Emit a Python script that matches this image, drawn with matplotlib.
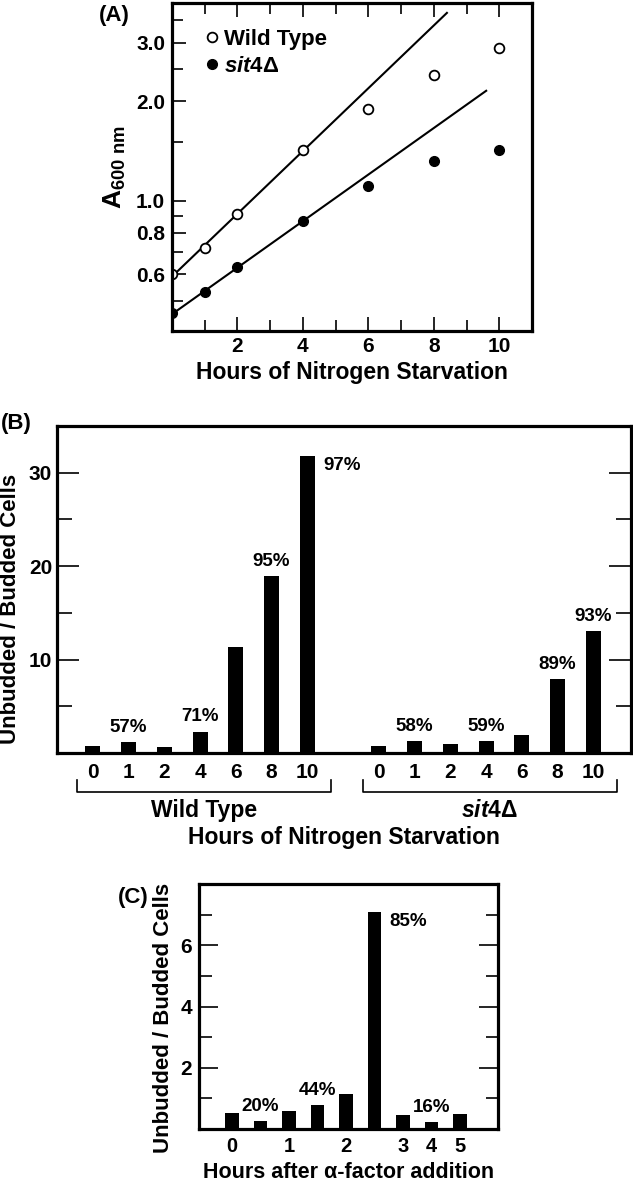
import numpy as np
import matplotlib
matplotlib.use('Agg')
import matplotlib.pyplot as plt
import matplotlib.transforms as mtransforms
from matplotlib.ticker import NullFormatter

plt.rcParams['font.family'] = ['Liberation Sans', 'DejaVu Sans']
plt.rcParams['font.weight'] = 'bold'
plt.rcParams['axes.labelweight'] = 'bold'
plt.rcParams['mathtext.fontset'] = 'custom'
plt.rcParams['mathtext.rm'] = 'Liberation Sans'
plt.rcParams['mathtext.bf'] = 'Liberation Sans:bold'
plt.rcParams['mathtext.it'] = 'Liberation Sans:italic:bold'

# panel A - growth curves (A600) during nitrogen starvation
hours_a = [0, 1, 2, 4, 6, 8, 10]
wt_a600 = [0.60, 0.72, 0.915, 1.42, 1.89, 2.39, 2.88]
sit4_a600 = [0.458, 0.53, 0.63, 0.87, 1.11, 1.32, 1.42]
fit_points = 4              # fit lines drawn through the first four points
fit_end = [8.4, 9.6]        # hours where the fit lines stop (WT, sit4)

# panel B - unbudded / budded ratio
b_hours = ['0', '1', '2', '4', '6', '8', '10']
b_wt = [0.75, 1.2, 0.6, 2.3, 11.3, 18.9, 31.8]
b_sit4 = [0.8, 1.3, 0.95, 1.27, 1.95, 7.9, 13.1]
b_wt_pct = ['', '57%', '', '71%', '', '95%', '97%']
b_sit4_pct = ['', '58%', '', '59%', '', '89%', '93%']

# panel C - alpha-factor arrest
c_labels = ['0', '', '1', '', '2', '', '3', '4', '5']
c_ratio = [0.53, 0.26, 0.59, 0.78, 1.14, 7.09, 0.46, 0.23, 0.48]
c_pct = ['', '20%', '', '44%', '', '85%', '', '16%', '']

W, H = 633, 1186
fig = plt.figure(figsize=(W / 100, H / 100), dpi=100)

TICK = 15
LAB = 16.5
PCT = 13.5


def box_axes(px_left, px_top, px_right, px_bottom):
    ax = fig.add_axes([px_left / W, 1 - px_bottom / H,
                       (px_right - px_left) / W, (px_bottom - px_top) / H])
    for s in ax.spines.values():
        s.set_linewidth(2.3)
    return ax


def label_bars(ax, xs, hs, labels, beside=None):
    for i, (x, h, lab) in enumerate(zip(xs, hs, labels)):
        if not lab:
            continue
        if i == beside:
            ax.annotate(lab, (x + 0.22, h), xytext=(6, -7), textcoords='offset points',
                        ha='left', va='center', fontsize=PCT)
        else:
            ax.annotate(lab, (x, h), xytext=(0, 10.5), textcoords='offset points',
                        ha='center', va='center', fontsize=PCT)


# ---------------- (A) ----------------
ax = box_axes(172, 3, 532, 331)
ax.set_yscale('log')
ax.plot(hours_a, wt_a600, 'o', mfc='white', mec='black', mew=1.3, ms=7, label='Wild Type')
ax.plot(hours_a, sit4_a600, 'o', color='black', ms=7, label=r'$\mathit{sit4}$Δ')
for vals, end in zip([wt_a600, sit4_a600], fit_end):
    k, b = np.polyfit(hours_a[:fit_points], np.log10(vals[:fit_points]), 1)
    xx = np.array([0, end])
    ax.plot(xx, 10 ** (k * xx + b), color='black', lw=1.5, zorder=1)
ax.set_xlim(0, 11)
ax.set_ylim(0.405, 3.95)
ax.set_xticks([2, 4, 6, 8, 10])
ax.set_xticks([1, 3, 5, 7, 9], minor=True)
ax.set_yticks([0.6, 0.8, 1.0, 2.0, 3.0], ['0.6', '0.8', '1.0', '2.0', '3.0'])
ax.set_yticks([0.5, 0.7, 0.9, 1.5, 2.5, 3.5], minor=True)
ax.yaxis.set_minor_formatter(NullFormatter())
ax.tick_params(which='both', direction='in', top=True, right=False, labelsize=TICK, width=1.2)
ax.tick_params(which='major', length=10)
ax.tick_params(which='minor', length=8)
ax.tick_params(axis='y', pad=5)
ax.tick_params(axis='x', pad=4)
ax.set_xlabel('Hours of Nitrogen Starvation', fontsize=LAB, va='center')
ax.xaxis.set_label_coords(0.5, -0.125)
ax.set_ylabel(r'$\mathbf{A}_{\mathrm{600\ nm}}$', fontsize=19, va='center')
ax.yaxis.set_label_coords(-0.16, 0.5)
ax.legend(loc='upper left', bbox_to_anchor=(0.095, 0.922), frameon=False, fontsize=16,
          handlelength=0.5, handletextpad=0.3, labelspacing=0.28, borderpad=0,
          borderaxespad=0)
fig.text(114 / W, 1 - 16 / H, '(A)', fontsize=16, ha='center', va='center')

# ---------------- (B) ----------------
ax = box_axes(57, 426, 631, 753)
xw = np.arange(len(b_wt))
xs = xw + len(b_wt) + 1
ax.bar(xw, b_wt, width=0.42, color='black')
ax.bar(xs, b_sit4, width=0.42, color='black')
label_bars(ax, xw, b_wt, b_wt_pct, beside=6)
label_bars(ax, xs, b_sit4, b_sit4_pct)
ax.set_xlim(-1, 15.05)
ax.set_ylim(0, 35)
ax.set_xticks(np.concatenate([xw, xs]), b_hours + b_hours)
ax.set_yticks([10, 20, 30])
ax.set_yticks([5, 15, 25], minor=True)
ax.tick_params(axis='x', length=0, pad=7, labelsize=TICK)
ax.tick_params(axis='y', which='both', direction='in', left=True, right=True,
               labelsize=TICK, pad=3.5, width=1.2)
ax.tick_params(axis='y', which='major', length=16)
ax.tick_params(axis='y', which='minor', length=11)
trans = mtransforms.blended_transform_factory(ax.transData, ax.transAxes)
for xg, name in [(xw, 'Wild Type'), (xs, r'$\mathit{sit4}$Δ')]:
    x0, x1 = xg[0] - 0.45, xg[-1] + 0.65
    ax.plot([x0, x0, x1, x1], [-0.083, -0.119, -0.119, -0.083], color='black',
            lw=1.2, transform=trans, clip_on=False)
    ax.text((x0 + x1) / 2, -0.175, name, transform=trans, ha='center', va='center',
            fontsize=LAB)
ax.set_xlabel('Hours of Nitrogen Starvation', fontsize=LAB, va='center')
ax.xaxis.set_label_coords(0.5, -0.257)
ax.set_ylabel('Unbudded / Budded Cells', fontsize=16, va='center')
ax.yaxis.set_label_coords(-0.081, 0.44)
fig.text(16 / W, 1 - 423 / H, '(B)', fontsize=16, ha='center', va='center')

# ---------------- (C) ----------------
ax = box_axes(199, 884, 498, 1129)
xc = np.arange(len(c_ratio))
ax.bar(xc, c_ratio, width=0.47, color='black')
label_bars(ax, xc, c_ratio, c_pct, beside=5)
ax.set_xlim(-1.16, 9.33)
ax.set_ylim(0, 8)
ax.set_xticks(xc, c_labels)
ax.set_yticks([2, 4, 6])
ax.set_yticks([1, 3, 5, 7], minor=True)
ax.tick_params(axis='x', length=0, pad=6, labelsize=14.5)
ax.tick_params(axis='y', which='both', direction='in', left=True, right=True,
               labelsize=TICK, pad=5, width=1.2)
ax.tick_params(axis='y', which='major', length=14)
ax.tick_params(axis='y', which='minor', length=9)
ax.set_xlabel('Hours after α-factor addition', fontsize=15.5, va='center')
ax.xaxis.set_label_coords(0.5, -0.178)
ax.set_ylabel('Unbudded / Budded Cells', fontsize=16, va='center')
ax.yaxis.set_label_coords(-0.12, 0.453)
fig.text(133 / W, 1 - 897 / H, '(C)', fontsize=16, ha='center', va='center')

fig.savefig('out.png', dpi=100)
